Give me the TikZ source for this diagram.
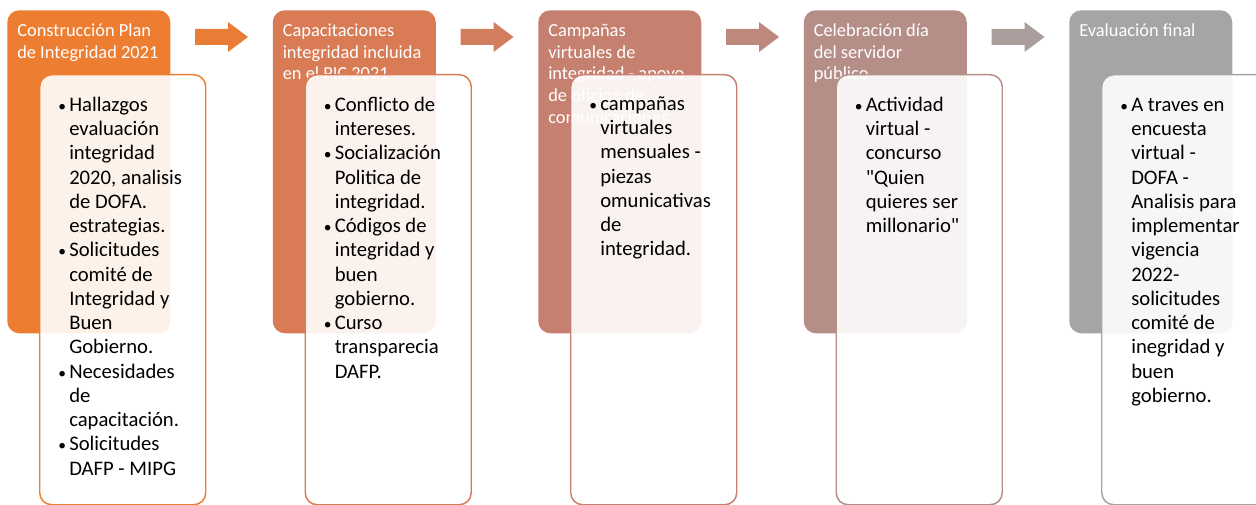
\documentclass[tikz,border=0pt]{standalone}
\usepackage{fontspec}
\setmainfont{Carlito}

\definecolor{stageA}{HTML}{ED7D31}
\definecolor{stageB}{HTML}{D97B55}
\definecolor{stageC}{HTML}{C6806F}
\definecolor{stageD}{HTML}{B58E88}
\definecolor{stageE}{HTML}{A5A5A5}

\newcommand{\headfont}{\fontsize{13.8pt}{16.3pt}\selectfont}
\newcommand{\bodyfont}{\fontsize{15.5pt}{18.2pt}\selectfont}
\newcommand{\bul}{\makebox[8.25pt][l]{\scalebox{0.75}{\textbullet}}}

\tikzset{
  stagebox/.style={rounded corners=9pt, minimum width=122.25pt, minimum height=242.25pt, inner sep=0pt, anchor=north west},
  detailbox/.style={draw, line width=1.1pt, fill=white, fill opacity=0.9, rounded corners=9pt, minimum width=124.5pt, minimum height=322.5pt, inner sep=0pt, anchor=north west},
  headtext/.style={anchor=north west, inner sep=0pt, text=white, font=\headfont},
  bodytext/.style={anchor=north west, inner sep=0pt, text=black, font=\bodyfont},
  blockarrow/.pic={\fill (0,0) -- (-20,-15) -- (-20,-8) -- (-53,-8) -- (-53,8) -- (-20,8) -- (-20,15) -- cycle;}
}

\begin{document}
\begin{tikzpicture}[x=0.75pt, y=-0.75pt]
\useasboundingbox (0,0) rectangle (1256,505);

% Stage boxes
\node[stagebox, fill=stageA] (stage1) at (7,10) {};
\node[stagebox, fill=stageB] (stage2) at (272.5,10) {};
\node[stagebox, fill=stageC] (stage3) at (538,10) {};
\node[stagebox, fill=stageD] (stage4) at (803.5,10) {};
\node[stagebox, fill=stageE] (stage5) at (1069,10) {};

% Stage titles
\node[headtext] (title1) at ([shift={(10,11)}]stage1.north west) {\begin{tabular}{@{}l@{}}Construcción Plan\\de Integridad 2021\end{tabular}};
\node[headtext] (title2) at ([shift={(10,11)}]stage2.north west) {\begin{tabular}{@{}l@{}}Capacitaciones\\integridad incluida\\en el PIC 2021\end{tabular}};
\node[headtext] (title3) at ([shift={(10,11)}]stage3.north west) {\begin{tabular}{@{}l@{}}Campañas\\virtuales de\\integridad - apoyo\\de oficina de\\comunicaciones\end{tabular}};
\node[headtext] (title4) at ([shift={(10,11)}]stage4.north west) {\begin{tabular}{@{}l@{}}Celebración día\\del servidor\\público\end{tabular}};
\node[headtext] (title5) at ([shift={(10,11)}]stage5.north west) {\begin{tabular}{@{}l@{}}Evaluación final\end{tabular}};

% Arrows between stages (tips)
\coordinate (arr1) at (248,37);
\coordinate (arr2) at (513.5,37);
\coordinate (arr3) at (779,37);
\coordinate (arr4) at (1044.5,37);
\pic[color=stageA!80!stageB] at (arr1) {blockarrow};
\pic[color=stageB!65!stageC] at (arr2) {blockarrow};
\pic[color=stageC!45!stageD] at (arr3) {blockarrow};
\pic[color=stageD!30!stageE] at (arr4) {blockarrow};

% Detail boxes
\node[detailbox, draw=stageA] (det1) at (39,74) {};
\node[detailbox, draw=stageB] (det2) at (304.5,74) {};
\node[detailbox, draw=stageC] (det3) at (570,74) {};
\node[detailbox, draw=stageD] (det4) at (835.5,74) {};
\node[detailbox, draw=stageE] (det5) at (1101,74) {};

% Detail texts
\node[bodytext] (list1) at ([shift={(19,20)}]det1.north west) {\begin{tabular}{@{}l@{}l@{}}
\bul & Hallazgos\\ & evaluación\\ & integridad\\ & 2020, analisis\\ & de DOFA.\\ & estrategias.\\
\bul & Solicitudes\\ & comité de\\ & Integridad y\\ & Buen\\ & Gobierno.\\
\bul & Necesidades\\ & de\\ & capacitación.\\
\bul & Solicitudes\\ & DAFP - MIPG
\end{tabular}};
\node[bodytext] (list2) at ([shift={(19,20)}]det2.north west) {\begin{tabular}{@{}l@{}l@{}}
\bul & Conflicto de\\ & intereses.\\
\bul & Socialización\\ & Politica de\\ & integridad.\\
\bul & Códigos de\\ & integridad y\\ & buen\\ & gobierno.\\
\bul & Curso\\ & transparecia\\ & DAFP.
\end{tabular}};
\node[bodytext] (list3) at ([shift={(19,19)}]det3.north west) {\begin{tabular}{@{}l@{}l@{}}
\bul & campañas\\ & virtuales\\ & mensuales -\\ & piezas\\ & omunicativas\\ & de\\ & integridad.
\end{tabular}};
\node[bodytext] (list4) at ([shift={(19,20)}]det4.north west) {\begin{tabular}{@{}l@{}l@{}}
\bul & Actividad\\ & virtual -\\ & concurso\\ & \textquotedbl Quien\\ & quieres ser\\ & millonario\textquotedbl
\end{tabular}};
\node[bodytext] (list5) at ([shift={(19,20)}]det5.north west) {\begin{tabular}{@{}l@{}l@{}}
\bul & A traves en\\ & encuesta\\ & virtual -\\ & DOFA -\\ & Analisis para\\ & implementar\\ & vigencia\\ & 2022-\\ & solicitudes\\ & comité de\\ & inegridad y\\ & buen\\ & gobierno.
\end{tabular}};
\end{tikzpicture}
\end{document}
